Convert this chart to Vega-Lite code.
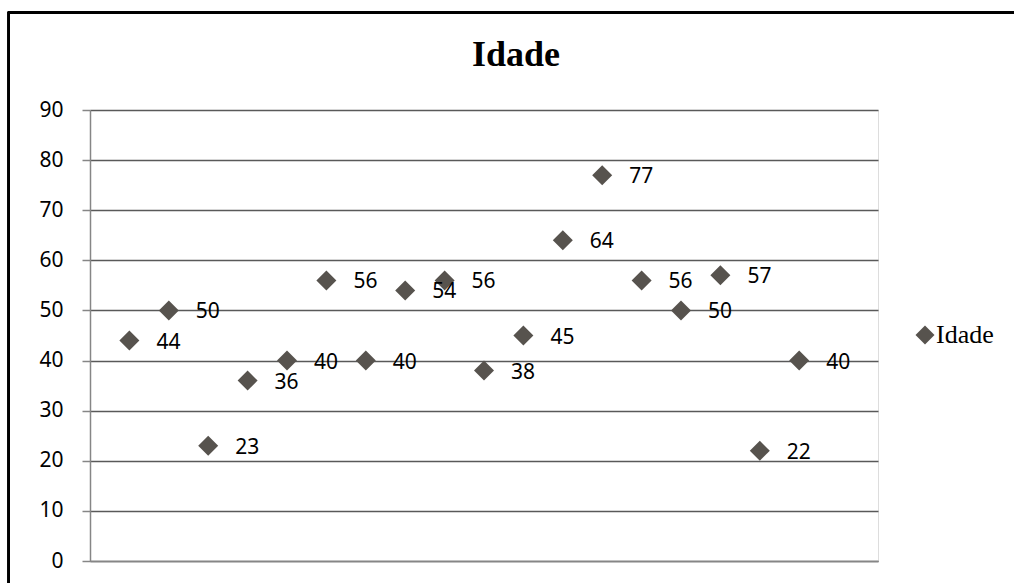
{
  "$schema": "https://vega.github.io/schema/vega-lite/v6.json",
  "width": 788,
  "height": 451,
  "autosize": "none",
  "padding": {"left": 90, "top": 110, "right": 136, "bottom": 22},
  "background": "white",
  "title": {
    "text": "Idade",
    "font": "Liberation Serif",
    "fontSize": 36,
    "fontWeight": "bold",
    "color": "black",
    "anchor": "middle",
    "frame": "group",
    "baseline": "alphabetic",
    "dx": 32,
    "offset": -90
  },
  "data": {
    "values": [
      {"n": 1, "Idade": 44, "serie": "Idade"},
      {"n": 2, "Idade": 50, "serie": "Idade"},
      {"n": 3, "Idade": 23, "serie": "Idade"},
      {"n": 4, "Idade": 36, "serie": "Idade"},
      {"n": 5, "Idade": 40, "serie": "Idade"},
      {"n": 6, "Idade": 56, "serie": "Idade"},
      {"n": 7, "Idade": 40, "serie": "Idade"},
      {"n": 8, "Idade": 54, "serie": "Idade"},
      {"n": 9, "Idade": 56, "serie": "Idade"},
      {"n": 10, "Idade": 38, "serie": "Idade"},
      {"n": 11, "Idade": 45, "serie": "Idade"},
      {"n": 12, "Idade": 64, "serie": "Idade"},
      {"n": 13, "Idade": 77, "serie": "Idade"},
      {"n": 14, "Idade": 56, "serie": "Idade"},
      {"n": 15, "Idade": 50, "serie": "Idade"},
      {"n": 16, "Idade": 57, "serie": "Idade"},
      {"n": 17, "Idade": 22, "serie": "Idade"},
      {"n": 18, "Idade": 40, "serie": "Idade"}
    ]
  },
  "encoding": {
    "x": {
      "field": "n",
      "type": "quantitative",
      "scale": {"domain": [0, 20], "nice": false, "zero": false},
      "axis": {"title": null, "labels": false, "ticks": false, "grid": false, "domainColor": "#868686", "domainWidth": 1.5}
    },
    "y": {
      "field": "Idade",
      "type": "quantitative",
      "scale": {"domain": [0, 90], "nice": false},
      "axis": {
        "title": null,
        "values": [0, 10, 20, 30, 40, 50, 60, 70, 80, 90],
        "grid": true,
        "gridColor": "#595959",
        "gridWidth": 1.5,
        "domainColor": "#868686",
        "domainWidth": 1.5,
        "tickColor": "#868686",
        "tickSize": 8,
        "tickWidth": 1.5,
        "labelFont": "Noto Sans",
        "labelFontSize": 21,
        "labelColor": "black",
        "labelPadding": 19
      }
    }
  },
  "layer": [
    {
      "mark": {"type": "rect", "fill": null, "stroke": "black", "strokeWidth": 2, "clip": false},
      "encoding": {
        "x": {"datum": -2.06, "type": "quantitative"},
        "x2": {"datum": 25},
        "y": {"datum": 109.4, "type": "quantitative"},
        "y2": {"datum": -10}
      }
    },
    {
      "mark": {"type": "point", "shape": "diamond", "filled": true, "size": 400, "opacity": 1},
      "encoding": {
        "color": {
          "field": "serie",
          "type": "nominal",
          "scale": {"range": ["#57534e"]},
          "legend": {
            "title": null,
            "orient": "none",
            "legendX": 822,
            "legendY": 212,
            "labelFont": "Liberation Serif",
            "labelFontSize": 26,
            "labelColor": "black",
            "symbolSize": 361,
            "symbolType": "diamond",
            "symbolOpacity": 1,
            "labelOffset": -2
          }
        }
      }
    },
    {
      "mark": {"type": "text", "align": "left", "baseline": "middle", "dx": 27, "dy": 2, "font": "Noto Sans", "fontSize": 21, "color": "black"},
      "encoding": {"text": {"field": "Idade", "type": "quantitative"}}
    }
  ]
}
